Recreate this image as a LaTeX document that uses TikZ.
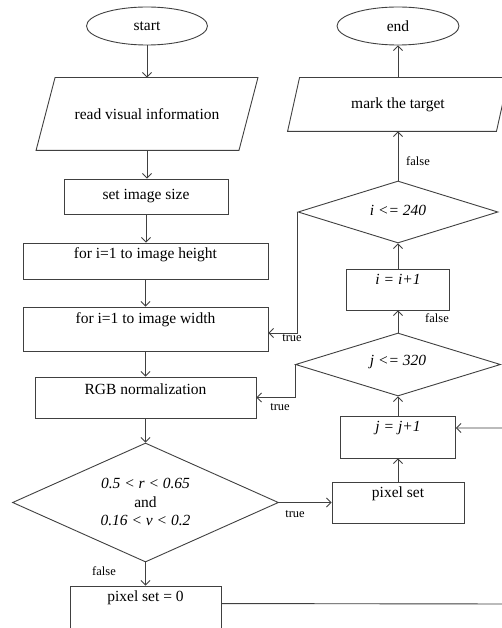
\documentclass[tikz,border=0pt]{standalone}
\usepackage{fontspec}
\setmainfont{Liberation Serif}
\usetikzlibrary{arrows.meta,shapes.geometric,calc}
\begin{document}
\begin{tikzpicture}[x=1pt,y=-1pt,
  line width=0.9pt,
  ln/.style={draw=black!75},
  arr/.style={ln,-{Straight Barb[length=4.5pt,width=9pt]}},
  box/.style={ln,rectangle,inner sep=0pt,font=\fontsize{15.5}{18.5}\selectfont},
  oval/.style={ln,ellipse,inner sep=0pt,font=\fontsize{15.5}{18.5}\selectfont},
  dia/.style={ln,diamond,inner sep=0pt},
  plain/.style={rectangle,inner sep=0pt,font=\fontsize{15.5}{18.5}\selectfont},
  txt/.style={inner sep=0pt,font=\fontsize{15.5}{18.5}\selectfont,align=center},
  lbl/.style={inner sep=0pt,font=\fontsize{12.5}{14}\selectfont}]
\useasboundingbox (0,0) rectangle (502,628);
\fill[white] (0,0) rectangle (502,628);
\clip (0,0) rectangle (502,628);

% left column
\node[oval,minimum width=121pt,minimum height=38pt] (start) at (147,26) {start};
\node[plain,minimum width=202pt,minimum height=72pt] (read) at (147,114) {read visual information};
\draw[ln] ([xshift=-9.5pt]read.south west) -- ([xshift=9.5pt]read.north west) -- ([xshift=9.5pt]read.north east) -- ([xshift=-9.5pt]read.south east) -- cycle;
\node[box,minimum width=164pt,minimum height=35pt] (size) at (146,196.5) {set image size};
\node[box,minimum width=245pt,minimum height=36pt] (hgt) at (145.5,261) {};
\node[txt] (thgt) at (145.5,255) {for i=1 to image height};
\node[box,minimum width=245pt,minimum height=44pt] (wid) at (145.5,329) {};
\node[txt] (twid) at (145.5,320) {for i=1 to image width};
\node[box,minimum width=221pt,minimum height=41pt] (rgb) at (145.5,397.5) {};
\node[txt] (trgb) at (145.5,389) {RGB normalization};
\node[dia,minimum width=266pt,minimum height=119pt] (cond) at (145.5,502.5) {};
\node[txt] (tcond) at (145.5,502) {\textit{0.5 < r < 0.65}\\and\\\textit{0.16 < v < 0.2}};
\node[box,minimum width=151pt,minimum height=60pt] (pz) at (145.5,616) {};
\node[txt] (tpz) at (145.5,598) {pixel set = 0};

% right column
\node[oval,minimum width=122pt,minimum height=38pt] (end) at (398,26) {end};
\node[plain,minimum width=208pt,minimum height=53pt] (mark) at (398,104.5) {mark the target};
\draw[ln] ([xshift=-6pt]mark.south west) -- ([xshift=6pt]mark.north west) -- ([xshift=6pt]mark.north east) -- ([xshift=-6pt]mark.south east) -- cycle;
\node[dia,minimum width=200pt,minimum height=62pt] (di) at (398,212) {};
\node[txt] (tdi) at (398,210) {\textit{i <= 240}};
\node[box,minimum width=103pt,minimum height=41pt] (inci) at (398,289.5) {};
\node[txt] (tinci) at (398,279) {\textit{i = i+1}};
\node[dia,minimum width=205pt,minimum height=63pt] (dj) at (398,364.5) {};
\node[txt] (tdj) at (398,362) {\textit{j <= 320}};
\node[box,minimum width=115pt,minimum height=42pt] (incj) at (398,437) {};
\node[txt] (tincj) at (398,428) {\textit{j = j+1}};
\node[box,minimum width=132pt,minimum height=41pt] (ps) at (398,502.5) {};
\node[txt] (tps) at (398,494) {pixel set};

\coordinate (r1) at (515,604);
\coordinate (r2) at (515,428);
\coordinate (t1) at (0,333);

% connectors
\draw[arr] (start.south) -- (start.south |- read.north);
\draw[arr] (read.south) -- (read.south |- size.north);
\draw[arr] (size.south) -- (size.south |- hgt.north);
\draw[arr] (hgt.south) -- (wid.north);
\draw[arr] (wid.south) -- (rgb.north);
\draw[arr] (rgb.south) -- (cond.north);
\draw[arr] (cond.south) -- (pz.north);
\draw[arr] (cond.east) -- (ps.west);
\draw[arr] (ps.north) -- (incj.south);
\draw[arr] (incj.north) -- (dj.south);
\draw[arr] (dj.north) -- (inci.south);
\draw[arr] (inci.north) -- (di.south);
\draw[arr] (di.north) -- (mark.south);
\draw[arr] (mark.north) -- (end.south);
\draw[arr] (di.west) |- (wid.east |- t1);
\draw[arr] (dj.west) |- (rgb.east);
\draw[arr] ([yshift=-18pt]pz.north east) -- (r1) -- (r2) -- ([yshift=9pt]incj.east);

% labels
\node[lbl] (lf1) at (104,571) {false};
\node[lbl] (lt1) at (295,514) {true};
\node[lbl] (lf2) at (437,318) {false};
\node[lbl] (lf3) at (418,161) {false};
\node[lbl] (lt2) at (292,338) {true};
\node[lbl] (lt3) at (280,407) {true};
\end{tikzpicture}
\end{document}
